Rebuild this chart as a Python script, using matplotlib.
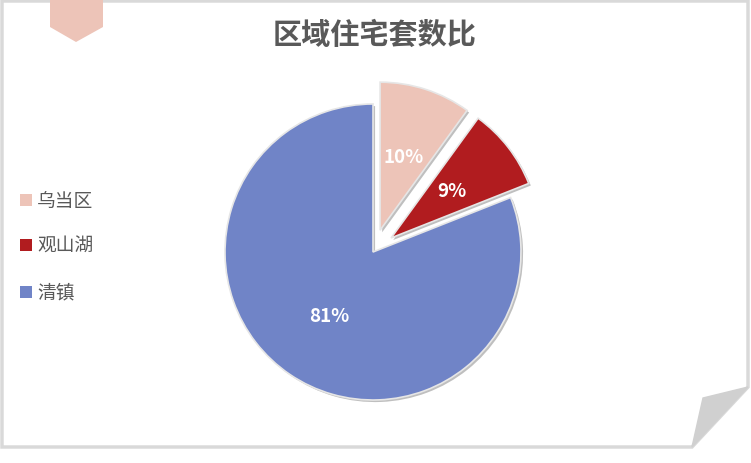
import matplotlib
matplotlib.use("Agg")
import matplotlib.pyplot as plt
from matplotlib.patches import Polygon, Rectangle
import matplotlib.patheffects as pe

plt.rcParams['font.family'] = ['Noto Sans CJK SC', 'DejaVu Sans']

categories = ['乌当区', '观山湖', '清镇']
values = [10, 9, 81]
colors = ['#EDC4B8', '#B11C1F', '#7084C7']
explode = [0.155, 0.155, 0.0]
title = '区域住宅套数比'

W, H = 751, 464
fig = plt.figure(figsize=(W / 100, H / 100), dpi=100)

# decoration layer in pixel coordinates
bg = fig.add_axes([0, 0, 1, 1])
bg.set_xlim(0, W)
bg.set_ylim(H, 0)
bg.axis('off')
frame = [(2, 2), (748, 2), (748, 388), (692, 448), (2, 448)]
bg.add_patch(Polygon(frame, closed=True, fill=False, edgecolor='#D9D9D9', lw=2.5))
bg.add_patch(Polygon([(748, 388), (703, 399), (692, 448)], closed=True,
                     facecolor='#D0D0D0', edgecolor='#D0D0D0', lw=1))
bg.add_patch(Polygon([(50, 0), (103, 0), (103, 28), (76, 43), (50, 28)], closed=True,
                     facecolor='#EDC4B8', edgecolor='none'))
bg.text(375, 35, title, ha='center', va='center', fontsize=21, fontweight='bold',
        color='#595959')

# legend
leg_y = [201, 246, 293]
for name, c, y in zip(categories, colors, leg_y):
    bg.add_patch(Rectangle((20, y - 6), 12, 12, facecolor=c, edgecolor='none'))
    bg.text(37, y, name, ha='left', va='center', fontsize=13.5, color='#595959')

# pie
cx, cy, R = 373, 253, 148
half = 200
ax = fig.add_axes([(cx - half) / W, (H - cy - half) / H, 2 * half / W, 2 * half / H])
lim = half / R
wedges, texts, autotexts = ax.pie(
    values, colors=colors, explode=explode, startangle=90, counterclock=False,
    autopct='%1.0f%%', pctdistance=0.52,
    wedgeprops=dict(edgecolor='#E6E6E6', linewidth=1.2),
    textprops=dict(color='white', fontsize=13.5, fontweight='bold'))
for w in wedges:
    w.set_path_effects([pe.SimplePatchShadow(offset=(1.5, -1.5), shadow_rgbFace='#000000',
                                              alpha=0.25), pe.Normal()])
ax.set_xlim(-lim, lim)
ax.set_ylim(-lim, lim)
ax.axis('off')

fig.savefig('out.png', dpi=100)
